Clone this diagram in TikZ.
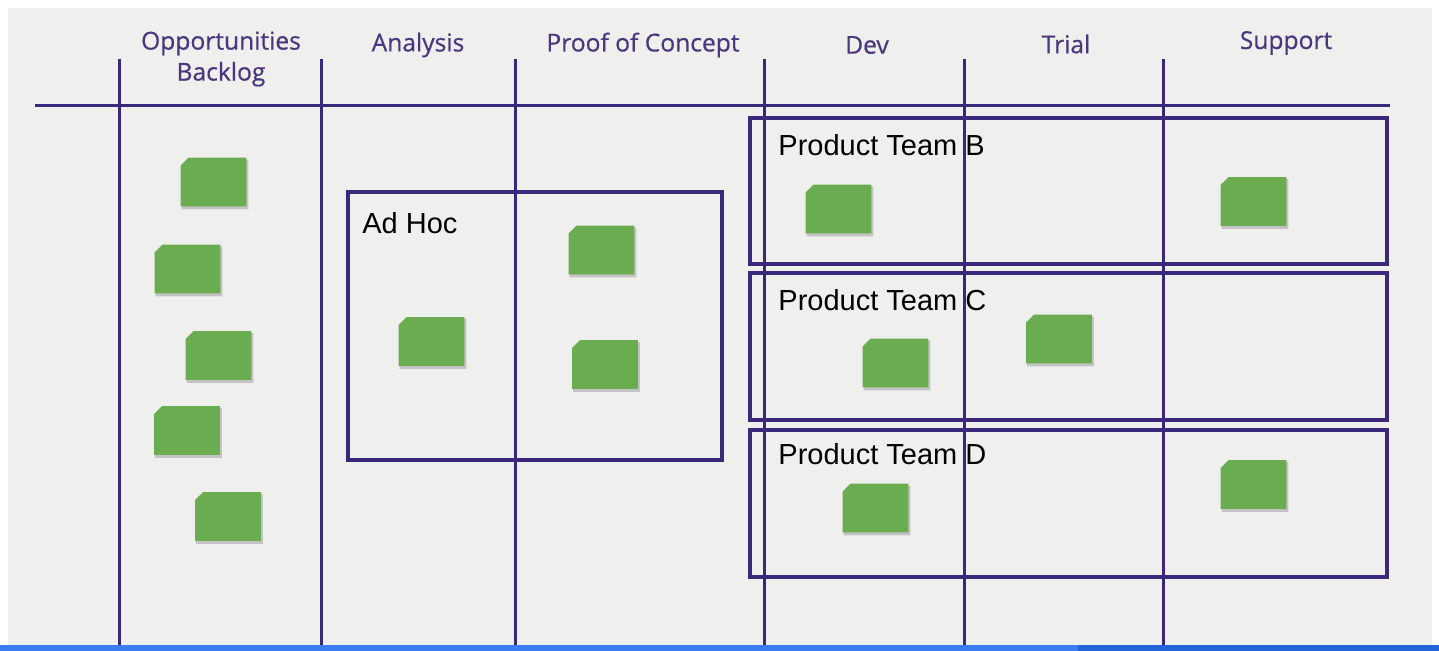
\documentclass[tikz,border=0pt]{standalone}
\usepackage{fontspec}
\setmainfont{Liberation Sans}
\newfontfamily\headfont[FakeBold=0.6]{Open Sans}
\usetikzlibrary{calc}
\definecolor{panelbg}{RGB}{239,239,238}
\definecolor{gridline}{RGB}{58,40,122}
\definecolor{headtxt}{RGB}{75,55,125}
\definecolor{stickygreen}{RGB}{106,172,80}
\definecolor{barblue}{RGB}{59,125,242}
\definecolor{bardark}{RGB}{34,100,220}
\tikzset{
  gridln/.style={draw=gridline, line width=1.5pt},
  head/.style={font=\headfont\fontsize{12.3}{15.5}\selectfont, text=headtxt, align=center, inner sep=0pt},
  teambox/.style={draw=gridline, line width=1.8pt, inner sep=0pt},
  boxlabel/.style={font=\fontsize{14.5}{17}\selectfont, text=black, anchor=west, inner sep=0pt},
  stickybox/.style={rectangle, draw=none, minimum width=32.5pt, minimum height=24pt, inner sep=0pt},
  stickyfill/.style={fill=stickygreen},
  stickyshadow/.style={fill=black, opacity=0.18}
}
\begin{document}
\begin{tikzpicture}[x=0.5pt,y=-0.5pt]
\useasboundingbox (0,0) rectangle (1439,651);
\fill[white] (0,0) rectangle (1439,651);
\fill[panelbg] (8,8) rectangle (1432,645);
\fill[barblue] (0,645) rectangle (1439,651);
\fill[bardark] (1078,645) rectangle (1439,651);
% grid
\coordinate (hl) at (35,106);
\coordinate (hr) at (1390,106);
\draw[gridln] (hl) -- (hr);
\foreach \x [count=\i] in {119,321,515,764,964,1163}{
  \coordinate (vt\i) at (\x,59);
  \coordinate (vb\i) at (\x,645);
  \draw[gridln] (vt\i) -- (vb\i);
}
% headers
\node[head] (h1) at (221,59) {Opportunities\\Backlog};
\node[head] (h2) at (418,45) {Analysis};
\node[head] (h3) at (643,45) {Proof of Concept};
\node[head] (h4) at (867,45) {Dev};
\node[head] (h5) at (1066,44) {Trial};
\node[head] (h6) at (1286,43) {Support};
% boxes
\node[teambox, minimum width=187pt, minimum height=134pt] (adhoc) at (535,326) {};
\node[boxlabel] (adhocl) at (362,223) {Ad Hoc};
\node[teambox, minimum width=318.5pt, minimum height=73pt] (teamB) at (1068.5,191) {};
\node[boxlabel] (teamBl) at (778,145) {Product Team B};
\node[teambox, minimum width=318.5pt, minimum height=73.5pt] (teamC) at (1068.5,346.5) {};
\node[boxlabel] (teamCl) at (778,300) {Product Team C};
\node[teambox, minimum width=318.5pt, minimum height=73.5pt] (teamD) at (1068.5,503.5) {};
\node[boxlabel] (teamDl) at (778,454) {Product Team D};
% stickies
\foreach \n/\px/\py in {s1/213.5/182, s2/187.5/269, s3/218.5/355.5, s4/187/430.5,
   s5/228/516.5, s6/431.5/341.5, s7/601.5/250, s8/605/364.5, s9/838.5/209,
   s10/1253.5/201.5, s11/895.5/363, s12/1059/339, s13/875.5/508, s14/1253.5/484.5}{
  \node[stickybox] (\n) at (\px,\py) {};
  \fill[stickyshadow] ($(\n.north west)+(1,10)$) -- ($(\n.north west)+(9,2)$)
     -- ($(\n.north east)+(2,2)$) -- ($(\n.south east)+(2,3)$) -- ($(\n.south west)+(1,3)$) -- cycle;
  \fill[stickyfill] ($(\n.north west)+(0,8)$) -- ($(\n.north west)+(8,0)$)
     -- (\n.north east) -- (\n.south east) -- (\n.south west) -- cycle;
}
\end{tikzpicture}
\end{document}
